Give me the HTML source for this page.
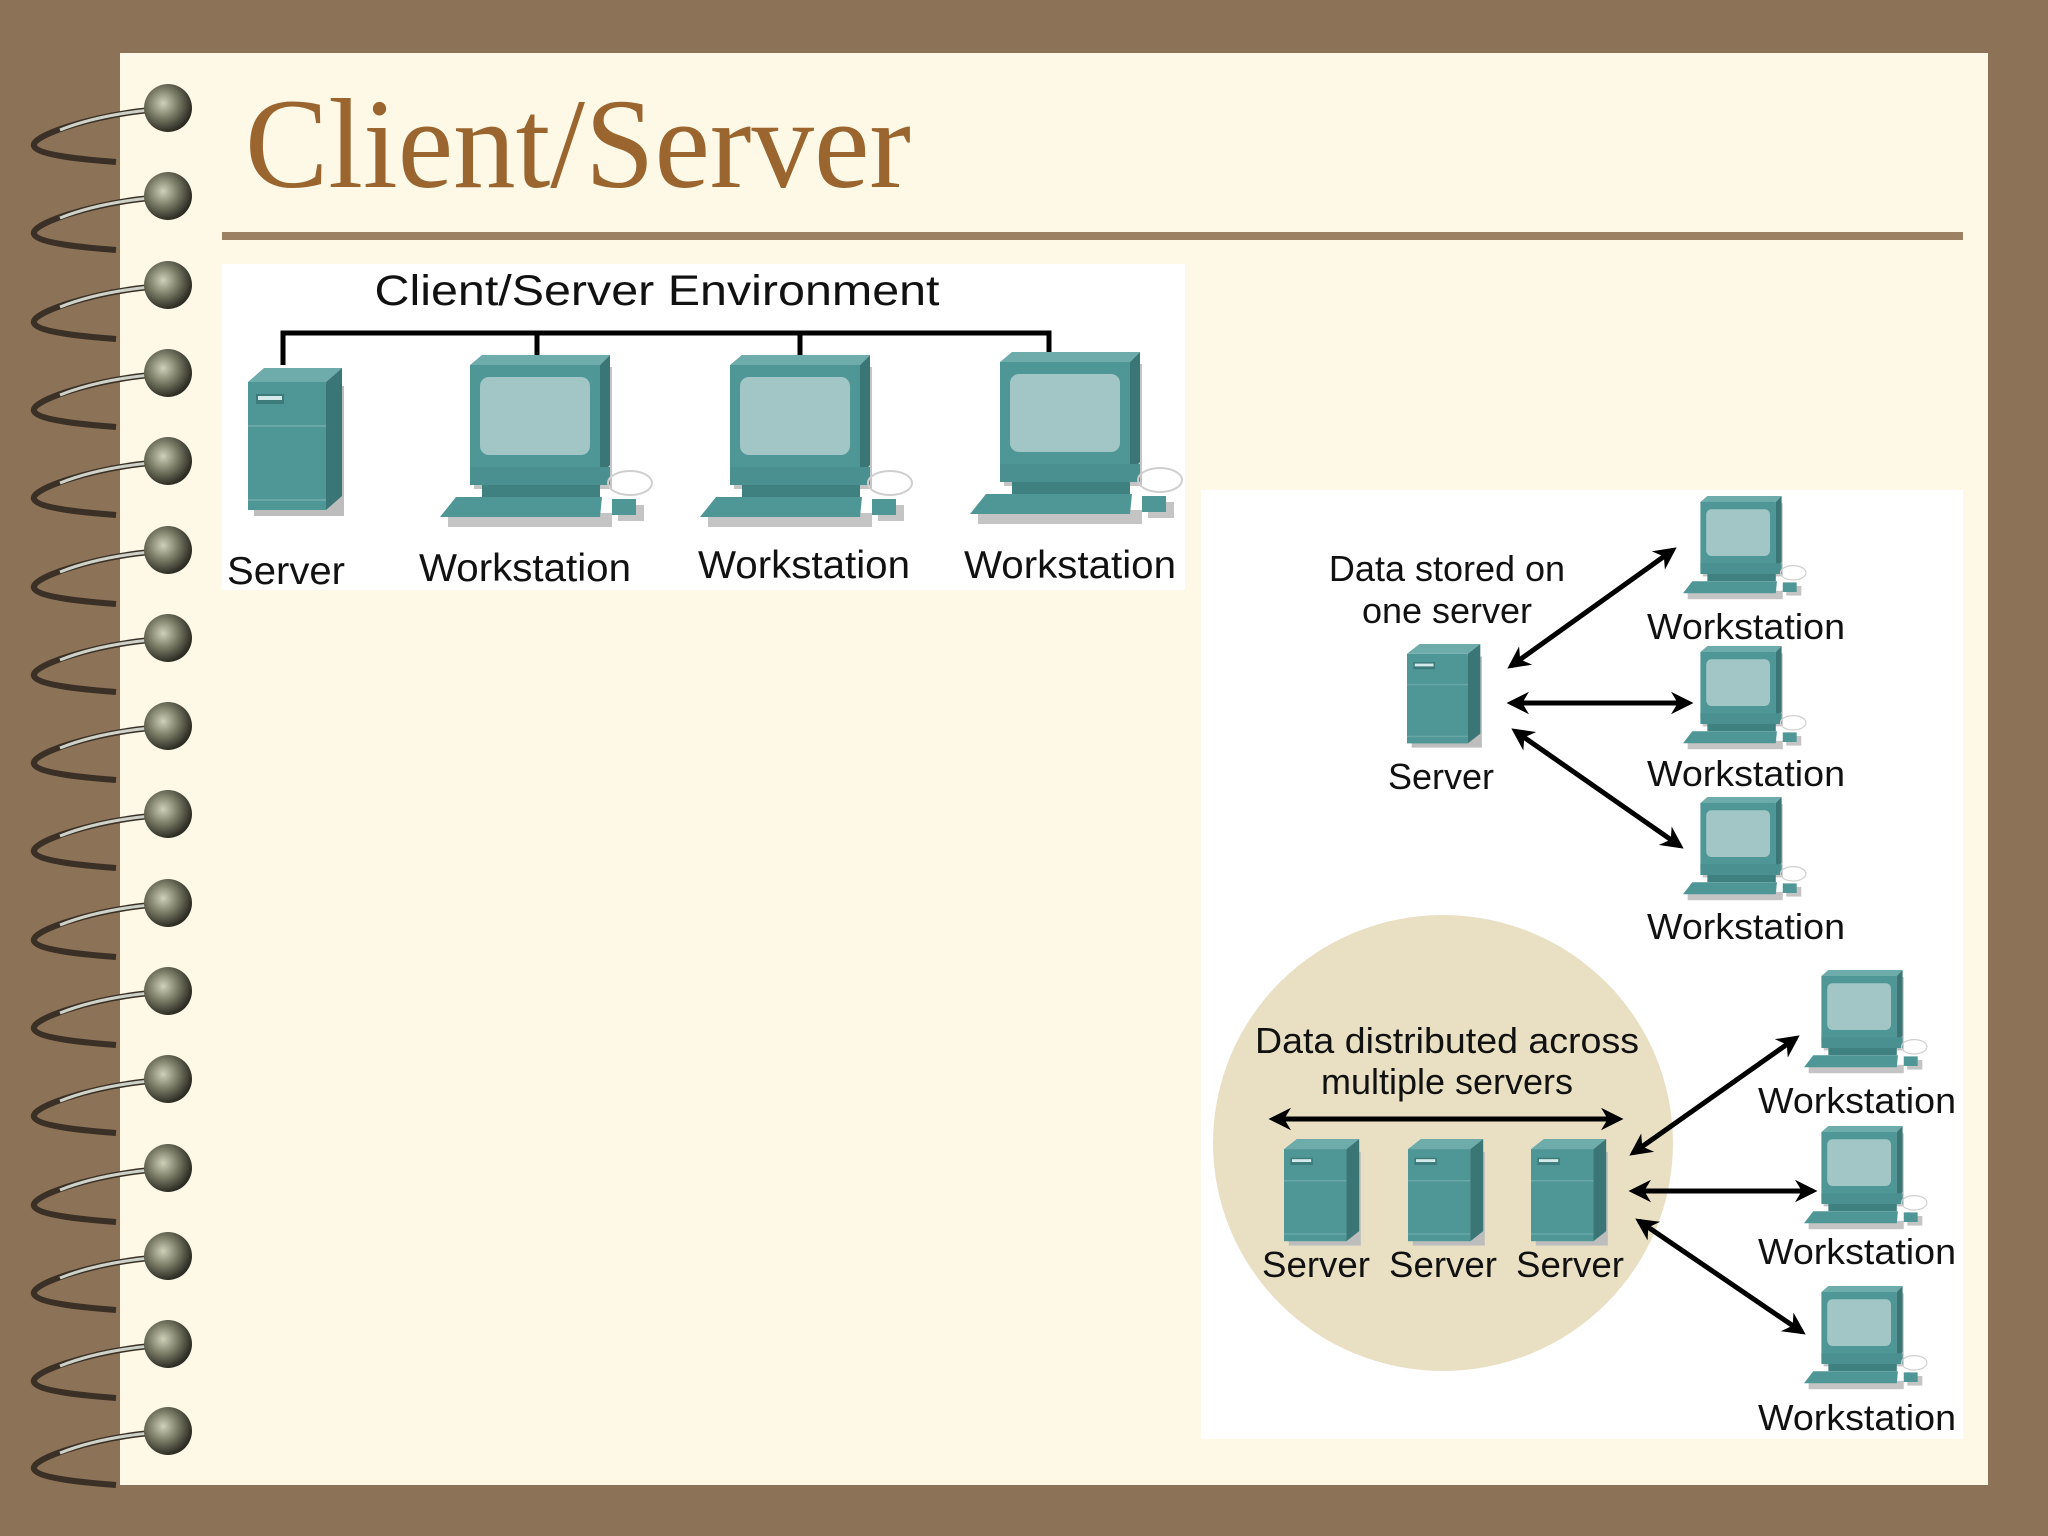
<!DOCTYPE html>
<html><head><meta charset="utf-8"><style>
html,body{margin:0;padding:0;background:#8C7257;}
svg{display:block}
text{font-family:"Liberation Sans",sans-serif;fill:#111;}
</style></head><body>
<svg width="2048" height="1536" viewBox="0 0 2048 1536" xmlns="http://www.w3.org/2000/svg">
<defs>
 <radialGradient id="ball" cx="0.4" cy="0.4" r="0.6">
  <stop offset="0" stop-color="#cfd0b8"/><stop offset="0.5" stop-color="#7d7e68"/><stop offset="1" stop-color="#2d2d25"/>
 </radialGradient>
 <g id="ring">
  <path d="M150,2 C90,8 30,28 34,38 C38,48 90,52 116,54" fill="none" stroke="#3a3026" stroke-width="6"/>
  <path d="M150,2 C110,6 80,14 60,22" fill="none" stroke="#cfd2c8" stroke-width="3"/>
  <circle cx="168" cy="0" r="24" fill="url(#ball)"/>
 </g>
 <g id="srv">
  <rect x="6" y="18" width="90" height="130" fill="#bdbdbd"/>
  <polygon points="0,14 16,0 94,0 78,14" fill="#6eabab"/>
  <rect x="0" y="14" width="78" height="128" fill="#4f9696"/>
  <polygon points="78,14 94,0 94,128 78,142" fill="#3a7676"/>
  <rect x="8" y="26" width="28" height="10" fill="#3d7b7b"/>
  <rect x="10" y="28" width="24" height="4" fill="#d5eaea"/>
  <line x1="0" y1="58" x2="78" y2="58" stroke="#6aa8a8" stroke-width="2"/>
  <line x1="0" y1="132" x2="78" y2="132" stroke="#6aa8a8" stroke-width="2"/>
 </g>
 <g id="ws">
  <rect x="34" y="12" width="138" height="122" fill="#c4c4c4"/>
  <polygon points="30,10 42,0 170,0 160,10" fill="#6eabab"/>
  <rect x="30" y="10" width="130" height="110" fill="#4f9696"/>
  <polygon points="160,10 170,0 170,110 160,120" fill="#3a7676"/>
  <rect x="40" y="22" width="110" height="78" rx="9" fill="#a2c6c6"/>
  <rect x="30" y="112" width="140" height="18" fill="#4a9090"/>
  <rect x="42" y="130" width="118" height="12" fill="#3f8080"/>
  <rect x="8" y="158" width="164" height="14" fill="#c4c4c4"/>
  <polygon points="0,162 16,142 162,142 160,162" fill="#4f9696"/>
  <rect x="178" y="150" width="26" height="16" fill="#c4c4c4"/>
  <rect x="172" y="144" width="24" height="16" fill="#4f9696"/>
  <ellipse cx="190" cy="128" rx="22" ry="12" fill="none" stroke="#cfcfcf" stroke-width="2"/>
 </g>
 <marker id="ah" viewBox="0 0 10 10" refX="8" refY="5" markerWidth="4.5" markerHeight="4.5" orient="auto-start-reverse">
  <path d="M0,0 L10,5 L0,10 L3,5 z" fill="#000"/>
 </marker>
</defs>

<!-- page -->
<rect x="120" y="53" width="1868" height="1432" fill="#FDF9E6"/>

<!-- rings -->
<use href="#ring" y="108"/><use href="#ring" y="196"/><use href="#ring" y="285"/><use href="#ring" y="373"/>
<use href="#ring" y="461"/><use href="#ring" y="550"/><use href="#ring" y="638"/><use href="#ring" y="726"/>
<use href="#ring" y="814"/><use href="#ring" y="903"/><use href="#ring" y="991"/><use href="#ring" y="1079"/>
<use href="#ring" y="1168"/><use href="#ring" y="1256"/><use href="#ring" y="1344"/><use href="#ring" y="1431"/>

<!-- title -->
<text x="245" y="187" style="font-family:'Liberation Serif',serif;fill:#9B6530" font-size="128" textLength="666" lengthAdjust="spacingAndGlyphs">Client/Server</text>
<rect x="222" y="232" width="1741" height="8" fill="#9C8262"/>

<!-- top diagram -->
<rect x="222" y="264" width="963" height="326" fill="#fff"/>
<text x="657" y="305" font-size="43" text-anchor="middle" textLength="565" lengthAdjust="spacingAndGlyphs">Client/Server Environment</text>
<path d="M283,365 V333 H1049 V360 M537,333 V360 M800,333 V360" fill="none" stroke="#000" stroke-width="5"/>
<use href="#srv" x="248" y="368"/>
<use href="#ws" x="440" y="355"/>
<use href="#ws" x="700" y="355"/>
<use href="#ws" x="970" y="352"/>
<text x="227" y="584" font-size="39" textLength="118" lengthAdjust="spacingAndGlyphs">Server</text>
<text x="525" y="581" font-size="39" text-anchor="middle" textLength="212" lengthAdjust="spacingAndGlyphs">Workstation</text>
<text x="804" y="578" font-size="39" text-anchor="middle" textLength="212" lengthAdjust="spacingAndGlyphs">Workstation</text>
<text x="1070" y="578" font-size="39" text-anchor="middle" textLength="212" lengthAdjust="spacingAndGlyphs">Workstation</text>

<!-- right diagram -->
<rect x="1201" y="490" width="762" height="949" fill="#fff"/>
<ellipse cx="1443" cy="1143" rx="230" ry="228" fill="#E9E0C4"/>

<text x="1447" y="581" font-size="36" text-anchor="middle">Data stored on</text>
<text x="1447" y="623" font-size="36" text-anchor="middle">one server</text>
<use href="#srv" transform="translate(1407,644) scale(0.78,0.7)"/>
<text x="1441" y="789" font-size="36" text-anchor="middle">Server</text>
<use href="#ws" transform="translate(1683,496) scale(0.58,0.6)"/>
<use href="#ws" transform="translate(1683,646) scale(0.58,0.6)"/>
<use href="#ws" transform="translate(1683,797) scale(0.58,0.6)"/>
<text x="1746" y="639" font-size="36" text-anchor="middle" textLength="198" lengthAdjust="spacingAndGlyphs">Workstation</text>
<text x="1746" y="786" font-size="36" text-anchor="middle" textLength="198" lengthAdjust="spacingAndGlyphs">Workstation</text>
<text x="1746" y="939" font-size="36" text-anchor="middle" textLength="198" lengthAdjust="spacingAndGlyphs">Workstation</text>
<g stroke="#000" stroke-width="5" marker-start="url(#ah)" marker-end="url(#ah)">
 <line x1="1511" y1="666" x2="1673" y2="550"/>
 <line x1="1511" y1="703" x2="1689" y2="703"/>
 <line x1="1515" y1="731" x2="1680" y2="846"/>
 <line x1="1273" y1="1119" x2="1619" y2="1119"/>
 <line x1="1633" y1="1153" x2="1796" y2="1038"/>
 <line x1="1633" y1="1191" x2="1813" y2="1191"/>
 <line x1="1639" y1="1221" x2="1802" y2="1332"/>
</g>

<text x="1447" y="1053" font-size="36" text-anchor="middle" textLength="384" lengthAdjust="spacingAndGlyphs">Data distributed across</text>
<text x="1447" y="1094" font-size="36" text-anchor="middle">multiple servers</text>
<use href="#srv" transform="translate(1284,1139) scale(0.8,0.72)"/>
<use href="#srv" transform="translate(1408,1139) scale(0.8,0.72)"/>
<use href="#srv" transform="translate(1531,1139) scale(0.8,0.72)"/>
<text x="1316" y="1277" font-size="36" text-anchor="middle" textLength="108" lengthAdjust="spacingAndGlyphs">Server</text>
<text x="1443" y="1277" font-size="36" text-anchor="middle" textLength="108" lengthAdjust="spacingAndGlyphs">Server</text>
<text x="1570" y="1277" font-size="36" text-anchor="middle" textLength="108" lengthAdjust="spacingAndGlyphs">Server</text>
<use href="#ws" transform="translate(1804,970) scale(0.58,0.6)"/>
<use href="#ws" transform="translate(1804,1126) scale(0.58,0.6)"/>
<use href="#ws" transform="translate(1804,1286) scale(0.58,0.6)"/>
<text x="1857" y="1113" font-size="36" text-anchor="middle" textLength="198" lengthAdjust="spacingAndGlyphs">Workstation</text>
<text x="1857" y="1264" font-size="36" text-anchor="middle" textLength="198" lengthAdjust="spacingAndGlyphs">Workstation</text>
<text x="1857" y="1430" font-size="36" text-anchor="middle" textLength="198" lengthAdjust="spacingAndGlyphs">Workstation</text>
</svg>
</body></html>
